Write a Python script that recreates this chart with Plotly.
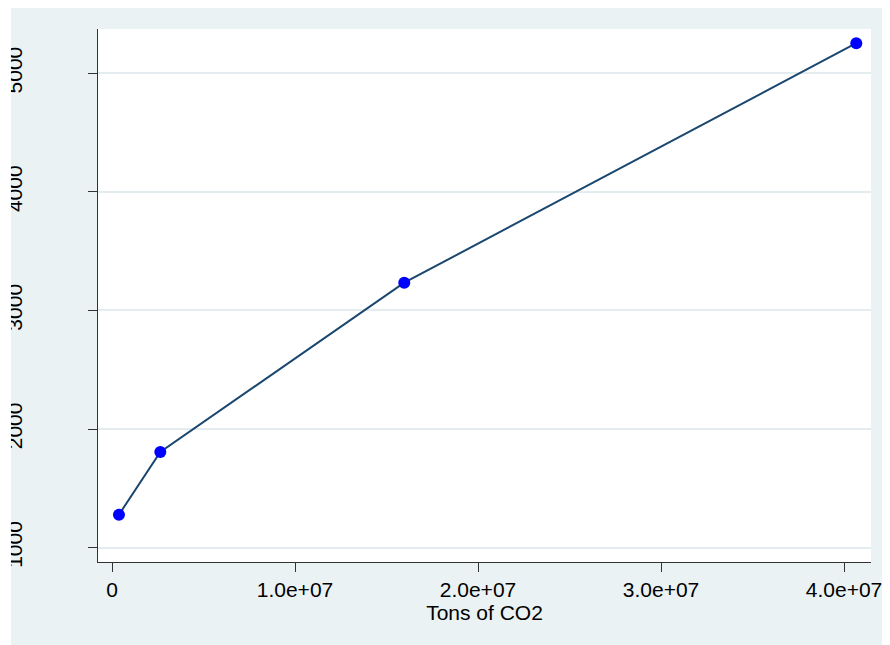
import plotly.graph_objects as go

# Data
tons_co2 = [380000, 2640000, 15970000, 40670000]
values = [1278, 1807, 3234, 5253]

x_tickvals = [0, 1e7, 2e7, 3e7, 4e7]
x_ticktext = ["0", "1.0e+07", "2.0e+07", "3.0e+07", "4.0e+07"]
y_tickvals = [1000, 2000, 3000, 4000, 5000]
y_ticktext = ["1000", "2000", "3000", "4000", "5000"]

BG = "#EAF2F3"
FONT = "Liberation Sans, Arial, sans-serif"

fig = go.Figure()
fig.add_trace(go.Scatter(
    x=tons_co2, y=values, mode="lines+markers",
    line=dict(color="#1A476F", width=2),
    marker=dict(color="#0000FF", size=12, line=dict(width=0)),
    showlegend=False,
))

# page body has an 8px margin; figure coordinates = page coordinates - 8
fig.update_layout(
    width=882, height=637,
    margin=dict(l=90, r=19, t=21, b=83, autoexpand=False),
    paper_bgcolor=BG, plot_bgcolor="white",
    font=dict(family=FONT, size=21, color="#000000"),
    xaxis=dict(
        range=[-765000, 41475000],
        tickvals=x_tickvals, ticktext=x_ticktext,
        ticks="outside", ticklen=9, tickwidth=1, tickcolor="#333333",
        showline=True, linecolor="#333333", linewidth=1,
        showgrid=False, zeroline=False, automargin=False,
        title=dict(text="Tons of CO2", font=dict(size=21), standoff=1),
        tickfont=dict(size=21),
    ),
    yaxis=dict(
        range=[879, 5373],
        tickvals=y_tickvals, ticktext=y_ticktext,
        tickangle=-90,
        ticks="outside", ticklen=9, tickwidth=1, tickcolor="#333333",
        showline=True, linecolor="#333333", linewidth=1,
        showgrid=True, gridcolor="#E4ECEF", gridwidth=2,
        zeroline=False, automargin=False,
        tickfont=dict(size=21),
        ticklabelstandoff=58,
    ),
    shapes=[
        dict(type="rect", xref="paper", yref="paper", x0=-0.3, x1=-0.1126,
             y0=-0.3, y1=1.2, fillcolor="white", line=dict(width=0), layer="above"),
    ],
)

fig.write_html("out.html")
